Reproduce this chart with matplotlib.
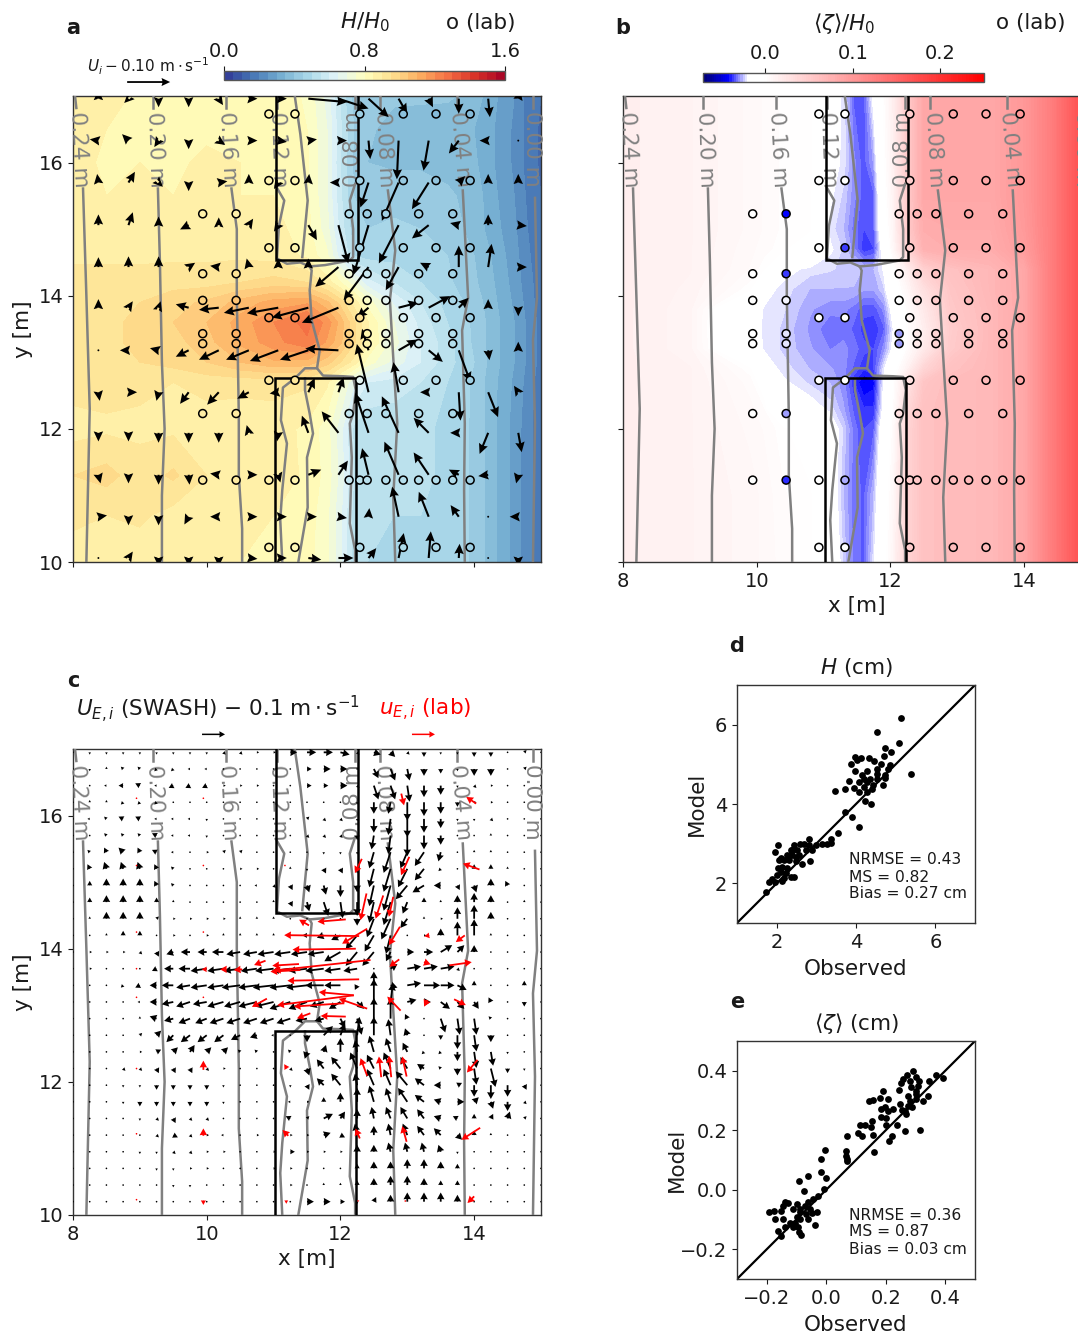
import numpy as np
import matplotlib
matplotlib.use("Agg")
import matplotlib.pyplot as plt
from matplotlib.colors import LinearSegmentedColormap

W, H_PX = 1078, 1335

# ---- wave height field (H/H0)
H_x = [8, 8.5, 9, 9.5, 10, 10.5, 11, 11.5, 11.8, 12.0, 12.2, 12.4, 12.8, 13.2, 13.6, 14, 14.3, 14.6, 14.8, 15]
H_y = [10, 10.7, 11.3, 12, 12.7, 13, 13.3, 13.6, 13.9, 14.2, 14.6, 15, 15.5, 16, 16.5, 17]
H_field = [
 [.88,.86,.87,.85,.86,.85,.84,.82,.76,.66,.52,.50,.49,.50,.49,.44,.36,.28,.22,.16],
 [.91,.90,.91,.88,.89,.87,.85,.83,.76,.66,.53,.51,.50,.50,.49,.44,.36,.28,.22,.16],
 [.95,.97,.92,.96,.90,.90,.88,.84,.78,.68,.55,.52,.51,.51,.49,.44,.36,.28,.22,.16],
 [.88,.89,.89,.89,.87,.86,.87,.84,.77,.67,.54,.51,.51,.51,.49,.44,.36,.28,.22,.16],
 [.92,.92,.91,.90,.92,.92,.92,.91,.86,.76,.66,.60,.58,.55,.50,.44,.36,.29,.23,.17],
 [.95,.95,.95,.97,1.00,1.05,1.09,1.08,1.02,.95,.88,.78,.68,.60,.52,.45,.37,.30,.24,.18],
 [.93,.94,.96,.98,1.03,1.11,1.18,1.24,1.14,1.06,.96,.86,.72,.60,.52,.44,.37,.30,.24,.18],
 [.93,.94,.96,1.00,1.05,1.12,1.20,1.27,1.18,1.08,.96,.86,.70,.58,.50,.44,.37,.30,.24,.18],
 [.93,.94,.95,.98,1.01,1.07,1.12,1.14,1.06,.98,.88,.78,.64,.55,.48,.43,.36,.29,.23,.17],
 [.92,.92,.92,.93,.93,.95,.97,.95,.88,.80,.72,.62,.55,.50,.46,.41,.35,.28,.22,.17],
 [.89,.89,.89,.89,.89,.89,.88,.84,.76,.62,.50,.48,.48,.47,.45,.40,.34,.27,.21,.16],
 [.88,.88,.87,.87,.87,.87,.87,.82,.72,.58,.47,.45,.46,.45,.43,.38,.32,.26,.20,.15],
 [.87,.85,.86,.85,.86,.85,.85,.81,.70,.56,.45,.42,.43,.43,.41,.38,.31,.25,.19,.15],
 [.87,.84,.85,.84,.86,.85,.85,.81,.70,.55,.44,.40,.39,.39,.38,.36,.30,.24,.18,.14],
 [.88,.85,.84,.83,.84,.84,.84,.80,.70,.56,.45,.41,.38,.37,.36,.35,.30,.24,.18,.14],
 [.90,.87,.84,.83,.84,.84,.84,.79,.68,.54,.43,.41,.41,.41,.41,.38,.31,.25,.18,.15],
]

# ---- setup field (zeta/H0)
Z_x = [8, 9, 9.9, 10.1, 10.4, 10.8, 11.1, 11.3, 11.45, 11.6, 11.75, 11.9, 12.05, 12.25, 12.5, 12.9, 13.5, 14, 14.4, 14.7, 15]
Z_y = [10, 11, 12, 12.3, 12.7, 12.9, 13.2, 13.5, 13.8, 14.1, 14.4, 14.7, 15, 15.5, 16, 17]
Z_field = [
 [.015,.012,.008,.006,.003,0,-.012,-.024,-.032,-.034,-.022,-.005,.01,.04,.06,.065,.068,.085,.125,.155,.19],
 [.015,.012,.008,.006,.002,0,-.015,-.026,-.032,-.034,-.026,-.008,.008,.04,.06,.065,.068,.085,.125,.155,.19],
 [.015,.012,.006,.004,0,-.005,-.016,-.024,-.032,-.036,-.034,-.012,.004,.04,.06,.065,.068,.085,.125,.155,.19],
 [.015,.012,.005,.002,-.02,-.018,-.022,-.028,-.034,-.038,-.038,-.018,.002,.035,.06,.065,.068,.085,.125,.155,.19],
 [.015,.012,.003,-.005,-.02,-.024,-.026,-.03,-.038,-.044,-.042,-.02,0,.025,.055,.065,.068,.085,.125,.155,.19],
 [.015,.012,0,-.018,-.022,-.026,-.028,-.03,-.034,-.038,-.036,-.022,-.005,.012,.04,.06,.068,.085,.125,.155,.19],
 [.015,.01,-.018,-.021,-.024,-.028,-.031,-.03,-.032,-.035,-.036,-.03,-.018,.002,.02,.05,.068,.085,.125,.155,.19],
 [.015,.01,-.02,-.021,-.024,-.029,-.033,-.032,-.034,-.037,-.038,-.034,-.02,0,.015,.048,.068,.085,.125,.155,.19],
 [.015,.01,-.018,-.021,-.023,-.028,-.03,-.03,-.032,-.035,-.035,-.03,-.016,.002,.02,.052,.068,.085,.125,.155,.19],
 [.015,.011,0,-.019,-.022,-.026,-.026,-.026,-.026,-.028,-.028,-.024,-.008,.008,.03,.055,.07,.085,.125,.155,.19],
 [.015,.012,.004,0,-.019,-.022,-.023,-.024,-.025,-.026,-.026,-.02,-.002,.015,.045,.06,.07,.085,.125,.155,.19],
 [.015,.012,.005,.003,0,-.008,-.02,-.024,-.03,-.038,-.036,-.015,.008,.04,.075,.08,.08,.095,.125,.155,.19],
 [.015,.012,.006,.004,.001,0,-.022,-.026,-.032,-.036,-.034,-.008,.01,.05,.08,.082,.082,.098,.125,.155,.19],
 [.015,.012,.006,.004,.001,0,-.02,-.024,-.03,-.035,-.034,-.004,.012,.05,.085,.085,.085,.1,.125,.155,.19],
 [.015,.012,.006,.004,.001,0,-.018,-.022,-.03,-.035,-.028,-.002,.014,.05,.085,.085,.085,.1,.125,.155,.19],
 [.015,.012,.006,.004,.001,0,-.016,-.022,-.034,-.035,-.018,0,.016,.05,.085,.085,.085,.1,.125,.155,.19],
]

# ---- lab gauge rows: y, x positions, measured H/H0, measured zeta/H0
lab_rows = [
 (16.73, [10.93,11.32,12.29,12.94,13.43,13.94], [.85,.84,.44,.39,.37,.37], [0,0,.05,.085,.085,.1]),
 (15.73, [10.93,11.32,12.29,12.94,13.43,13.94], [.85,.84,.45,.42,.41,.38], [0,0,.05,.085,.085,.1]),
 (15.23, [9.94,10.44,12.13,12.40,12.68,13.17,13.68], [.87,.87,.5,.44,.45,.45,.42], [0,-.042,.03,.07,.085,.085,.085]),
 (14.72, [10.93,11.32,12.29,12.94,13.43,13.94], [.88,.85,.48,.47,.45,.4], [0,-.036,.05,.08,.08,.095]),
 (14.33, [9.94,10.44,12.13,12.40,12.68,13.17,13.68], [.92,.94,.72,.58,.55,.5,.46], [0,-.036,.01,.04,.06,.07,.07]),
 (13.93, [9.94,10.44,12.13,12.40,12.68,13.17,13.68], [1.0,1.05,.95,.78,.66,.56,.48], [0,-.02,0,.03,.05,.068,.068]),
 (13.67, [10.93,11.32,12.29,12.94,13.43,13.94], [1.18,1.22,.95,.62,.52,.44], [-.012,-.012,.01,.05,.068,.085]),
 (13.43, [9.94,10.44,12.13,12.40,12.68,13.17,13.68], [1.03,1.1,1.0,.85,.7,.6,.5], [-.017,-.021,-.028,.02,.04,.06,.068]),
 (13.28, [9.94,10.44,12.13,12.40,12.68,13.17,13.68], [1.01,1.09,1.0,.85,.7,.6,.5], [-.017,-.021,-.028,.02,.04,.06,.068]),
 (12.73, [10.93,11.32,12.29,12.94,13.43,13.94], [.92,.92,.66,.58,.52,.44], [0,-.01,.03,.065,.068,.085]),
 (12.23, [9.94,10.44,12.13,12.40,12.68,13.17,13.68], [.89,.9,.55,.51,.51,.51,.48], [0,-.028,.03,.05,.062,.066,.068]),
 (11.23, [9.94,10.44,10.93,11.32,12.13,12.29,12.40,12.68,12.94,13.17,13.43,13.68,13.94], [.9,.9,.88,.85,.56,.53,.52,.51,.51,.51,.5,.49,.44], [0,-.038,0,-.026,.03,.05,.055,.062,.065,.066,.068,.068,.085]),
 (10.22, [10.93,11.32,12.29,12.94,13.43,13.94], [.85,.83,.5,.49,.49,.44], [0,0,.05,.065,.068,.085]),
]

# ---- reef walls
reef_upper_x = [11.04, 11.04, 12.26, 12.26]
reef_upper_y = [17, 14.53, 14.53, 17]
reef_lower_x = [11.02, 11.02, 12.23, 12.23]
reef_lower_y = [10, 12.76, 12.76, 10]

# ---- depth contours (x, y polylines)
depth_lines = [
 ([8.03,8.05],[17,16.82]),
 ([8.15,8.2,8.25,8.2],[15.61,14,12.3,10]),
 ([9.2,9.2],[17,16.82]),
 ([9.27,9.3,9.33,9.37,9.33,9.33],[15.61,14.5,13,12,11,10]),
 ([10.29,10.29],[17,16.82]),
 ([10.37,10.45,10.45,10.48,10.48,10.53,10.53],[15.61,15,14,12.2,11.3,10.5,10]),
 ([11.05,11.05],[17,16.82]),
 ([11.05,11.16,11.08,11.05,11.2,11.4,11.54,11.57,11.54,11.57,11.69,11.65,11.47,11.32,11.14,11.11,11.2,11.13,11.1,11.13],
  [15.62,15.43,15.05,14.56,14.48,14.5,14.44,14.38,14.08,13.63,13.18,12.91,12.91,12.76,12.62,12.13,11.78,11.08,10.63,10]),
 ([11.32,11.4,11.51,11.43],[16.98,16.43,15.43,14.58]),
 ([11.47,11.47,11.54,11.59,11.5,11.51,11.37],[12.76,12.58,12.23,11.93,11.57,10.82,10]),
 ([12.22,12.22],[17,16.82]),
 ([12.22,12.14,12.19,12.19,12.14,11.77,11.54],[15.68,15.43,15.0,14.58,14.53,14.46,14.44]),
 ([11.65,11.74,12.04,12.19,12.23,12.19,12.14,12.17,12.14,12.22,12.22],[12.91,12.8,12.79,12.78,12.58,12.23,12.08,11.57,10.58,10.18,10]),
 ([12.59,12.59],[17,16.82]),
 ([12.71,12.82,12.74,12.79,12.85,12.79,12.82],[15.58,14.68,13.93,13.07,12.08,10.97,10]),
 ([13.74,13.74],[17,16.82]),
 ([13.83,13.91,13.82,13.86,13.85,13.86],[15.58,13.97,13.48,12.08,11.08,10]),
 ([14.88,14.88],[17,16.82]),
 ([14.91,14.94,14.88,14.91,14.88],[15.47,13.97,13.33,12.08,10]),
]
depth_label_text = ["0.24 m","0.20 m","0.16 m","0.12 m","0.08 m","0.08 m","0.04 m","0.00 m"]
depth_label_x = [8.09, 9.23, 10.32, 11.07, 12.19, 12.65, 13.79, 14.87]
depth_label_y = [16.2, 16.2, 16.2, 16.2, 16.2, 16.2, 16.2, 16.2]
depth_label_rot = [-87, -88, -87, -88, 90, -87, -85, -90]

# ---- panel a: depth-averaged velocity (cm/s), rows top to bottom
Ua_x = [8.38,8.83,9.28,9.73,10.18,10.63,11.07,11.52,11.97,12.42,12.87,13.32,13.77,14.21,14.66]
Ua_y = [16.96,16.33,15.7,15.06,14.43,13.82,13.18,12.55,11.94,11.31,10.68,10.06]
Ua = [
 [0,-1,0,0,1,2,2,9,7,4.7,2,1,0,.4,.5],
 [-2,-1.5,-1,0,1.5,2,2,2,2,.4,-.4,-1.2,-2.3,-2,0],
 [-.3,1.5,1,0,2,0,-1,.2,-2,-1.9,-3.9,-3.9,1.5,0,0],
 [0,1,0,-2,0,1,-1,2,2.3,-3.5,-4.6,-3.9,-2,0,2],
 [0,0,0,1.5,-2,-.5,0,0,-5.4,-5.8,-3,-2,0,.8,2],
 [0,1,.5,-3,-4.6,-5.8,-7.3,-8.5,-8.5,-2.7,4.6,5,2.3,0,0],
 [0,-2,-2,-3,-4.6,-5.3,-6.6,-6.6,-7.7,-1.5,4.3,3.3,2.7,.3,0],
 [.3,2,-.5,-2,-2.7,-2.7,-2,1.5,1.2,-2.7,-1.2,-2,.4,2.3,-1],
 [0,0,0,0,0,-.5,-.3,-1.5,-3.9,-3.1,-3.9,-3.5,-2,-2,.8],
 [.5,0,0,.2,-2,2,.5,3,2.2,-1.5,-3.3,-3.5,-2.3,-2.3,-.5],
 [2,0,0,-1,-2,2,2,2,2,.2,-1.5,-2.3,-1.9,0,-2],
 [0,1,0,0,0,2,2,3,3.5,1.8,1.2,.5,.2,0,0],
]
Va = [
 [2,-1,-2,-2,-1.5,0,0,-.8,-2.3,-4.3,-3.5,-2,-3.5,-4.3,2],
 [.3,1.5,-1.5,-2,-1,0,-.3,.3,0,-4.3,-9,-7,-3,0,0],
 [2,2.5,-1,-2,.3,2,-1.5,2,0,-5.8,-8.9,-6.2,1.5,2,2],
 [2.5,3,2,-1,1.8,1.5,-1.5,-3.5,-8.9,-11.6,-8.9,-3.1,.5,2.5,-.2],
 [2.3,2.5,2.5,1,.3,2,2,2,-4.6,-7.7,-5.4,1,5,5.4,0],
 [2,1.5,1.5,.8,-.5,-1.2,-1.3,-2.3,-3.5,-2.3,1.2,2.7,2.3,2,-2],
 [0,0,.5,-1.5,-2.2,-2.2,-2.5,-2.2,.4,5,2.5,-2.7,-7.4,-2.3,2],
 [-2,0,-2,-2.7,-2.9,-1.5,-.3,3.3,3.5,11.2,7,0,-6.6,-5.8,1.5],
 [-2,-2,-2.3,-2.3,-2.3,1.8,-2,4,5,9.3,8.5,3.5,0,-4.9,-4.5],
 [-2,-2,-2.3,-2.3,.3,0,-1.8,1.2,3.3,6.2,7.7,5.2,1.2,-.3,-2],
 [.3,-2,-2,-1.8,0,0,0,0,-.3,2,7,5.8,2.7,0,0],
 [0,1.5,-2,-2,-2,-.2,0,-.4,0,2.3,5.8,6.2,3.3,0,-2],
]

# ---- panel c: wave-averaged Eulerian velocity SWASH (cm/s), rows top to bottom
Uc_x = [8+.25*i for i in range(29)]
Uc_y = [16.95-.25*i for i in range(28)]
Uc = [
 [0,0,0,0,0,0,0,0,0,1,1,1,1,3,4,4,4,1,3,2,1,0,0,0,0,0,0,1,0],
 [0,0,0,-1,-1,-1,-1,-1,-1,0,0,0,0,0,2,3,3,0,2,2,1,0,0,0,0,0,0,1,0],
 [0,0,-1,-2,-2,-1,-2,-2,-2,1,1,1,0,0,2,2,3,1,2,2,1,0,0,0,1,1,0,0,0],
 [0,0,0,-1,-1,-1,0,0,0,0,0,0,0,0,0,0,0,0,0,-1,0,0,0,0,1,1,0,0,0],
 [0,-1,-1,-2,-2,-1,-1,-1,0,0,0,0,0,0,1,1,1,0,0,-1,0,0,0,0,0,1,0,0,0],
 [0,0,-1,-1,-1,-2,-1,-1,0,0,0,0,0,0,1,1,1,0,-1,-1,0,0,0,0,0,0,0,0,0],
 [0,-1,-1,-2,-1,-2,-1,0,1,1,1,0,0,0,0,0,0,0,-2,-3,-3,-4,-1,0,0,0,0,0,0],
 [0,-1,-1,-1,-1,-1,-1,0,0,0,1,1,0,0,0,1,1,0,-2,-3,-4,-4,-1,0,0,0,0,0,0],
 [0,0,0,0,0,-1,-1,0,0,0,0,-1,1,1,1,1,0,0,-2,-3,-5,-5,-3,1,1,0,-1,0,0],
 [0,0,0,0,0,0,0,0,0,0,0,0,0,1,1,2,1,0,-2,-3,-2,0,0,0,0,0,0,0,0],
 [0,0,0,0,0,1,1,1,1,1,0,0,0,0,0,0,0,0,-3,-4,-3,0,1,0,0,0,0,0,0],
 [0,0,0,0,0,0,1,0,1,0,0,0,0,0,-2,-3,-4,-5,-4,-2,0,1,0,0,0,0,0,0,0],
 [0,1,1,1,1,1,-3,-4,-4,-5,-6,-6,-7,-7,-7,-7,-7,-5,-5,-2,3,4,5,3,0,0,0,0,0],
 [0,1,0,0,0,-2,-4,-5,-7,-7,-7,-7,-8,-8,-8,-8,-7,-6,0,3,6,6,6,1,0,0,0,0,0],
 [0,0,0,-1,-2,-3,-5,-6,-7,-7,-8,-8,-9,-9,-9,-8,-7,-1,0,3,6,7,6,4,0,0,0,0,0],
 [0,0,0,0,-1,-3,-5,-6,-6,-7,-7,-8,-8,-9,-8,-6,-5,3,0,1,4,3,4,3,2,-1,0,0,0],
 [0,0,0,0,0,-3,-4,-5,-5,-6,-6,-6,-6,-6,-5,-4,2,2,0,0,-1,0,2,1,1,-1,0,0,0],
 [0,0,0,0,1,2,-3,-4,-4,-4,-4,-3,-1,0,0,4,2,1,0,-1,-1,0,0,0,1,0,0,0,0],
 [0,0,0,0,1,2,2,2,2,2,-1,-1,0,-1,-1,1,0,-1,-2,-2,-2,-1,-1,0,1,1,0,0,0],
 [0,0,0,1,1,1,1,1,1,1,0,0,0,1,1,-3,-4,-3,-3,-3,-3,-3,-1,0,1,2,0,0,0],
 [0,0,0,0,0,0,0,0,0,0,0,0,0,0,1,-3,-4,-1,-3,-3,-5,-4,-3,2,0,0,0,1,0],
 [0,0,0,0,0,0,0,0,0,0,0,0,0,-1,1,0,0,0,-2,-2,-4,-4,-3,3,2,1,0,1,0],
 [0,0,0,0,0,1,1,1,1,0,0,0,0,-2,1,4,2,0,-1,-2,-3,-3,-3,-2,0,1,1,1,0],
 [0,0,0,0,0,1,2,1,1,-1,0,1,0,1,1,3,2,-1,0,-1,-2,-3,-3,2,0,0,0,0,0],
 [0,0,0,0,0,0,1,1,1,1,0,0,1,2,1,1,1,0,0,-1,-1,-1,-1,0,0,0,0,0,0],
 [0,0,0,0,0,0,0,1,1,0,0,0,1,1,0,0,0,0,0,0,0,0,0,0,0,0,0,0,0],
 [0,0,0,0,0,0,0,0,0,0,0,0,0,1,0,0,0,0,0,0,0,0,0,0,0,0,0,0,0],
 [0,0,0,0,0,0,0,0,0,0,0,0,0,0,3,3,2,0,1,0,0,0,0,0,0,0,0,0,0],
]
Vc = [
 [0,-1,-1,-1,-1,-1,-1,-1,-1,-1,-1,0,0,0,0,0,-1,-1,-1,-2,-1,-2,-1,-1,-2,-2,0,1,0],
 [0,-1,1,1,1,-1,-1,0,0,0,0,0,0,0,0,0,0,0,-4,-5,-5,-3,-2,-1,-3,-3,0,1,0],
 [0,0,0,0,1,0,-1,-1,-1,0,0,0,0,0,0,0,0,-1,-6,-6,-7,-5,-4,-1,-1,0,0,0,0],
 [0,1,1,-1,-1,-1,0,0,0,0,0,0,0,0,0,0,0,-1,-5,-5,-8,-6,-5,-2,0,0,0,0,0],
 [0,0,1,1,1,0,0,0,-1,0,0,0,0,0,1,-1,-1,-1,-6,-7,-8,-6,-4,-1,-1,-1,0,0,0],
 [0,0,1,1,1,1,0,0,-1,0,0,0,0,0,-1,-1,-1,-2,-6,-8,-9,-6,-4,0,0,1,0,0,0],
 [0,1,2,2,2,1,0,0,0,1,1,0,0,0,0,-1,-1,-1,-7,-9,-7,-6,-4,0,1,1,0,0,0],
 [0,2,3,3,3,2,1,0,0,0,0,0,0,1,-1,-2,-2,-2,-8,-10,-8,-5,-1,0,2,2,1,0,0],
 [0,2,3,3,3,2,1,0,0,0,0,0,-1,-2,-3,-4,-5,-3,-9,-11,-6,-3,0,-2,-3,3,2,0,0],
 [0,2,3,3,3,2,1,0,0,0,0,0,1,-2,-4,-6,-7,-6,-9,-10,-5,2,1,3,4,3,0,1,0],
 [0,1,3,3,3,1,0,0,0,0,1,1,1,0,0,0,0,-3,-8,-9,-4,1,0,5,6,3,0,0,0],
 [0,0,1,2,2,0,0,0,0,1,1,1,1,0,0,-1,-2,-6,-7,-8,0,0,3,6,7,1,0,0,0],
 [0,0,0,0,-1,-2,-1,0,0,0,-1,-1,-1,-1,-1,-1,-4,-6,-6,-4,0,0,3,3,3,0,0,0,0],
 [0,0,0,0,0,-1,0,0,-1,-1,-1,-1,-1,-1,-1,-1,-1,-1,0,2,1,1,1,-1,0,0,0,0,0],
 [0,0,0,-1,-1,0,0,-1,-1,-1,-1,-1,-1,-1,-1,0,0,-2,6,-1,1,0,0,-2,2,0,0,2,0],
 [0,0,0,0,0,0,-1,-2,-1,-2,-2,-2,-2,-3,-3,-2,-3,-3,10,8,1,0,-3,-3,-3,2,0,-2,0],
 [0,0,0,0,1,1,-1,-2,-2,-2,-2,-2,-2,-2,-1,-1,-4,-7,9,9,2,0,-6,-7,-7,1,0,0,0],
 [0,0,0,0,1,2,-3,-3,-3,-3,-2,-1,0,0,-3,4,5,8,8,7,3,0,-2,-6,-7,-3,0,0,0],
 [0,0,0,0,0,1,2,3,2,2,1,1,0,1,-3,3,6,5,7,6,4,-1,-1,-4,-7,-6,-1,0,0],
 [0,0,0,-1,-1,-2,-2,-2,-1,0,0,0,0,-1,-3,4,5,7,6,7,5,2,1,-3,-7,-8,-2,-1,0],
 [0,0,0,-1,-1,-2,-2,-2,-2,-1,0,0,0,-1,-2,3,5,5,7,7,6,3,0,1,-5,-6,-5,-2,0],
 [0,0,0,-1,-2,-2,-2,-2,-2,-1,0,0,0,0,0,2,4,6,7,6,6,3,1,0,2,-3,-4,-1,0],
 [0,0,0,0,-1,-1,-2,-1,-1,0,0,0,0,1,1,2,3,4,5,5,5,4,1,1,2,2,3,1,0],
 [0,0,0,0,0,-1,-1,-1,0,0,0,0,0,0,0,1,-1,5,4,5,5,4,3,-2,2,1,0,0,0],
 [0,0,0,0,-1,-1,-1,-1,0,0,0,0,0,0,0,0,0,3,3,4,4,4,3,-1,0,0,0,0,0],
 [0,0,0,0,0,-1,-1,0,0,0,0,0,0,0,0,0,0,2,3,3,4,4,3,2,0,0,0,0,0],
 [0,0,0,0,0,0,-1,-1,0,0,0,0,0,0,0,1,1,2,3,4,4,3,2,2,0,0,0,0,0],
 [0,0,0,0,0,0,0,0,0,0,0,0,0,0,0,0,0,-1,2,3,4,4,4,3,0,0,0,0,0],
]

# ---- panel c: lab velocities (x, y, u cm/s, v cm/s)
lab_x = [12.91,14.03,14.08,12.32,13.03,12.39,12.64,12.79,12.08,11.53,12.4,12.28,12.89,13.33,13.86,12.23,12.45,11.38,10.88,12.88,13.25,13.63,10.3,10.53,10,11.4,
         12.28,12.2,12.2,12.4,12.05,10.9,12.9,13.3,13.7,12.08,11.55,
         12.4,12.61,12.76,12.99,14.05,11.2,9.95,8.95,
         12.29,12.99,14.09,11.22,9.95,8.95,
         14,12.97,12.27,11.19,9.95,8.95,
         8.95,9.95,8.95,9.95,11.17,8.95,9.95,8.95,8.95,9.95]
lab_y = [16.33,16.18,15.19,15.35,15.38,14.83,14.8,14.78,14.44,14.35,14.3,14.19,14.33,14.2,14.2,14.0,13.83,13.77,13.82,13.84,13.8,13.75,13.69,13.69,13.69,13.68,
         13.54,13.3,13.3,13.1,13.18,13.25,13.07,13.23,13.24,12.98,13.03,
         12.09,12.07,12.07,12.08,12.33,12.2,12.18,12.2,
         11.15,11.1,11.31,11.19,11.19,11.22,
         10.28,10.21,10.22,10.22,10.22,10.23,
         16.26,16.26,15.25,15.25,15.25,14.25,14.25,13.7,13.27,13.27]
lab_u = [1.2,-4.3,-7.2,-3,-3.6,-2.6,-3.3,-1.9,-12.3,-4.3,-10.9,-32.6,-4.8,-2.2,-3.9,-27.5,-42,-11.6,-5,-4.3,2.9,9.7,-2.9,-3.6,-2.2,-13,
         -31.2,-33.3,-15.2,-12.3,-21.7,-6.5,-5.8,-1.4,5.1,-10.9,-5.8,
         -2.9,-1,-1,-1.9,-4.6,-1.2,0,.2,
         -1.9,-1.9,-8.1,-2.5,0,.2,
         -2.9,-.7,-.4,0,0,.2,
         .2,.2,.2,.2,.2,.2,.2,.2,.2,.2]
lab_v = [-5.1,2.9,2.6,-6.2,-8,-11.6,-10.1,-8.7,-1,2.5,-6.5,.4,-8,-.4,-2.9,-.4,-4.6,-.7,-1.9,-3.2,-1,1.4,0,-.3,0,-.7,
         -.6,-4.3,1.4,4.3,-1.4,-3.6,6.1,-2.9,-2.5,.3,-2.2,
         7.7,9,9.3,8.7,-5.5,1.9,4,0,
         4.3,6.8,-5.2,2.5,3.2,0,
         -2.9,.3,-.7,-1.5,-2,0,
         0,0,0,0,0,0,0,0,0,0]

# ---- scatter panels
d_obs = [5.14,4.54,5.08,4.74,4.88,4.7,3.98,4.13,4.03,4.32,4.45,3.88,4.64,4.86,4.8,4.53,4.28,3.97,5.38,4.15,4.53,4.74,4.19,4.36,4.53,4.74,3.83,4.07,4.28,4.69,4.44,3.94,3.48,3.72,4.07,4.28,4.19,4.41,4.22,4.38,3.72,3.89,4.07,3.54,
         3.38,3.38,3.27,3.15,2.98,2.81,2.6,2.69,2.81,2.44,2.04,1.97,2.35,2.52,2.73,2.9,2.27,2.1,2.39,2.56,2.18,2.31,2.48,2.85,2.64,2.14,2.03,2.27,2.23,2.02,2.35,2.44,1.89,1.81,1.97,2.14,2.18,1.72,2.06,2.39,2.48,2.1]
d_mod = [6.17,5.81,5.55,5.41,5.31,5.22,5.18,5.16,5.11,5.15,5.08,5.0,5.0,4.98,4.88,4.88,4.84,4.82,4.75,4.73,4.76,4.72,4.63,4.63,4.63,4.66,4.58,4.55,4.55,4.47,4.47,4.4,4.34,4.38,4.3,4.3,4.42,4.38,4.08,4.01,3.79,3.66,3.42,3.27,
         3.02,3.13,3.0,3.0,2.96,3.11,3.0,3.0,2.96,2.96,2.96,2.8,2.84,2.84,2.84,2.84,2.71,2.63,2.71,2.71,2.59,2.59,2.57,2.57,2.49,2.42,2.38,2.38,2.25,2.21,2.17,2.17,2.1,2.04,2.04,2.07,2.13,1.77,2.59,2.84,2.67,2.29]
e_obs = [.29,.27,.303,.392,.368,.347,.258,.312,.283,.25,.308,.286,.191,.244,.303,.275,.303,.342,.18,.206,.158,.143,.325,.28,.303,.247,.275,.197,.225,.185,.208,.253,.289,.264,.269,.185,.202,.154,.13,.113,.152,.202,.238,.316,.266,.107,.121,.158,.222,.069,.21,
         -.004,.065,.162,.066,-.016,.069,.069,-.017,-.061,-.002,-.092,-.007,-.075,
         -.027,-.044,-.06,-.139,-.127,-.097,-.072,-.144,-.111,-.088,-.055,-.191,-.174,-.152,-.088,-.03,-.049,-.068,-.173,-.144,-.099,-.06,-.088,-.105,-.122,-.139,-.094,-.038,-.111,-.163,-.153,-.085,-.091]
e_mod = [.40,.387,.38,.375,.385,.366,.372,.366,.364,.358,.35,.344,.333,.335,.333,.316,.322,.316,.307,.306,.302,.297,.298,.297,.305,.288,.283,.277,.27,.27,.266,.268,.279,.266,.253,.246,.24,.232,.219,.218,.212,.219,.217,.201,.197,.19,.182,.185,.18,.179,.163,
         .132,.13,.126,.115,.102,.104,.096,.058,.046,.039,.03,.004,-.004,
         -.021,-.03,-.041,-.042,-.045,-.047,-.053,-.055,-.064,-.064,-.064,-.076,-.07,-.072,-.075,-.075,-.078,-.08,-.097,-.097,-.092,-.097,-.097,-.112,-.112,-.125,-.125,-.117,-.125,-.14,-.155,-.153,-.142]

# ---------------------------------------------------------------- drawing
plt.rcParams.update({"font.size": 14, "axes.linewidth": 1.0, "axes.edgecolor": "#333333",
                     "xtick.color": "#1a1a1a", "ytick.color": "#1a1a1a",
                     "xtick.labelsize": 14, "ytick.labelsize": 14,
                     "axes.labelsize": 15.5, "axes.labelcolor": "#1a1a1a", "text.color": "#1a1a1a"})
fig = plt.figure(figsize=(W/100, H_PX/100), dpi=100)

def axpx(x0, y0, x1, y1):
    return fig.add_axes([x0/W, 1-y1/H_PX, (x1-x0)/W, (y1-y0)/H_PX])

def tpx(x, y, s, **kw):
    kw.setdefault("ha", "center"); kw.setdefault("va", "center")
    return fig.text(x/W, 1-y/H_PX, s, **kw)

def base(ax):
    ax.set_xlim(8, 15); ax.set_ylim(10, 17)
    ax.set_xticks([8, 10, 12, 14]); ax.set_yticks([10, 12, 14, 16])
    for x, y in depth_lines:
        ax.plot(x, y, color="#808080", lw=1.8, zorder=4)
    for s, x, y, r in zip(depth_label_text, depth_label_x, depth_label_y, depth_label_rot):
        ax.text(x, y, s, rotation=r, color="#808080", fontsize=15.5, ha="center", va="center",
                rotation_mode="anchor", zorder=4, clip_on=False)
    for xs, ys in [(reef_upper_x, reef_upper_y), (reef_lower_x, reef_lower_y)]:
        ax.plot(xs, ys, color="black", lw=1.8, zorder=5, solid_joinstyle="miter")

# ---------- panel a
ax_a = axpx(73, 96, 541, 562)
cf_a = ax_a.contourf(H_x, H_y, H_field, levels=np.linspace(0, 1.6, 33), cmap="RdYlBu_r", vmin=0, vmax=1.6)
base(ax_a)
ax_a.set_xticklabels([])
ax_a.set_ylabel("y [m]")
qa = dict(angles="uv", scale_units="inches", scale=10/0.43, units="inches", headwidth=4.5, headlength=4.8, headaxislength=4.3)
ax_a.quiver(Ua_x, Ua_y, Ua, Va, width=0.021, minshaft=0.5, color="black", zorder=6, **qa)
ax_a.quiver([8.81], [17.21], [10], [0], width=0.018, color="black", clip_on=False, **qa)
lx = [x for r in lab_rows for x in r[1]]
ly = [r[0] for r in lab_rows for _ in r[1]]
lh = [v for r in lab_rows for v in r[2]]
lz = [v for r in lab_rows for v in r[3]]
ax_a.scatter(lx, ly, c=lh, cmap="RdYlBu_r", vmin=0, vmax=1.6, s=33, edgecolors="black", linewidths=1.1, zorder=7)
cax_a = axpx(224, 71, 505, 80)
cb_a = fig.colorbar(cf_a, cax=cax_a, orientation="horizontal", ticks=[0, .8, 1.6])
cb_a.ax.xaxis.set_ticks_position("top"); cb_a.ax.tick_params(labelsize=14)
cb_a.ax.set_xticklabels(["0.0", "0.8", "1.6"])
cb_a.outline.set_edgecolor("#555555")
tpx(365, 22, r"$H/H_0$", fontsize=15.5)
tpx(481, 23, "o (lab)", fontsize=15.5)
tpx(73, 28, "a", fontsize=15, fontweight="bold")
tpx(148, 66, r"$U_i - 0.10\ \mathrm{m\cdot s^{-1}}$", fontsize=11)

# ---------- panel b
ax_b = axpx(623, 96, 1091, 562)
Z_MIN, Z_MAX = -0.071, 0.25
cm_z = LinearSegmentedColormap.from_list("z", [(0, (0, 0, .45)), (.09, (0, 0, 1)), (.16, (1, 1, 1)), (.22, (1, 1, 1)), (1, (1, 0, 0))])
cf_b = ax_b.contourf(Z_x, Z_y, Z_field, levels=np.linspace(Z_MIN, Z_MAX, 129), cmap=cm_z, vmin=Z_MIN, vmax=Z_MAX)
base(ax_b)
ax_b.set_yticklabels([])
ax_b.set_xlabel("x [m]")
ax_b.scatter(lx, ly, c=lz, cmap=cm_z, vmin=Z_MIN, vmax=Z_MAX, s=33, edgecolors="black", linewidths=1.1, zorder=7)
cax_b = axpx(703, 73, 984, 82)
cb_b = fig.colorbar(cf_b, cax=cax_b, orientation="horizontal", ticks=[0, .1, .2])
cb_b.ax.xaxis.set_ticks_position("top"); cb_b.ax.tick_params(labelsize=14)
cb_b.ax.set_xticklabels(["0.0", "0.1", "0.2"])
cb_b.outline.set_edgecolor("#555555")
tpx(844, 23, r"$\langle\zeta\rangle/H_0$", fontsize=15.5)
tpx(1031, 23, "o (lab)", fontsize=15.5)
tpx(623, 28, "b", fontsize=15, fontweight="bold")

# ---------- panel c
ax_c = axpx(73, 749, 541, 1215)
base(ax_c)
ax_c.set_xlabel("x [m]"); ax_c.set_ylabel("y [m]")
qkw = dict(angles="uv", scale_units="inches", scale=10/0.23, units="inches", headwidth=4.2, headlength=3.8, headaxislength=3.6)
ax_c.quiver(Uc_x, Uc_y, Uc, Vc, width=0.018, color="black", zorder=6, **qkw)
ax_c.quiver(lab_x, lab_y, lab_u, lab_v, width=0.018, color="red", zorder=7, **qkw)
ax_c.quiver([9.93], [17.22], [10], [0], width=0.015, color="black", clip_on=False, **qkw)
ax_c.quiver([13.07], [17.22], [10], [0], width=0.015, color="red", clip_on=False, **qkw)
tpx(73, 681, "c", fontsize=15, fontweight="bold")
tpx(76, 709, r"$U_{E,i}$ (SWASH) $-\ 0.1\ \mathrm{m\cdot s^{-1}}$", fontsize=15.5, ha="left")
tpx(379, 710, r"$u_{E,i}$ (lab)", fontsize=15.5, ha="left", color="red")

# ---------- panels d, e
ax_d = axpx(737, 685, 975, 923)
ax_d.plot([1, 7], [1, 7], color="black", lw=1.6)
ax_d.scatter(d_obs, d_mod, s=24, color="black", zorder=3, linewidths=0)
ax_d.set_xlim(1, 7); ax_d.set_ylim(1, 7)
ax_d.set_xticks([2, 4, 6]); ax_d.set_yticks([2, 4, 6])
ax_d.set_xlabel("Observed", labelpad=5); ax_d.set_ylabel("Model")
ax_d.yaxis.set_label_coords(-0.126, 0.5)
ax_d.set_title(r"$H$ (cm)", fontsize=15.5, pad=8)
tpx(849, 859, "NRMSE = 0.43", fontsize=11.2, ha="left")
tpx(849, 877, "MS = 0.82", fontsize=11.2, ha="left")
tpx(849, 894, "Bias = 0.27 cm", fontsize=11.2, ha="left")
tpx(737, 646, "d", fontsize=15, fontweight="bold")

ax_e = axpx(737, 1041, 975, 1279)
ax_e.plot([-.3, .5], [-.3, .5], color="black", lw=1.6)
ax_e.scatter(e_obs, e_mod, s=24, color="black", zorder=3, linewidths=0)
ax_e.set_xlim(-.3, .5); ax_e.set_ylim(-.3, .5)
ax_e.set_xticks([-.2, 0, .2, .4]); ax_e.set_yticks([-.2, 0, .2, .4])
ax_e.set_xlabel("Observed", labelpad=5); ax_e.set_ylabel("Model")
ax_e.yaxis.set_label_coords(-0.21, 0.5)
ax_e.set_title(r"$\langle\zeta\rangle$ (cm)", fontsize=15.5, pad=8)
tpx(849, 1215, "NRMSE = 0.36", fontsize=11.2, ha="left")
tpx(849, 1232, "MS = 0.87", fontsize=11.2, ha="left")
tpx(849, 1250, "Bias = 0.03 cm", fontsize=11.2, ha="left")
tpx(737, 1002, "e", fontsize=15, fontweight="bold")

fig.savefig("out.png", dpi=100)
